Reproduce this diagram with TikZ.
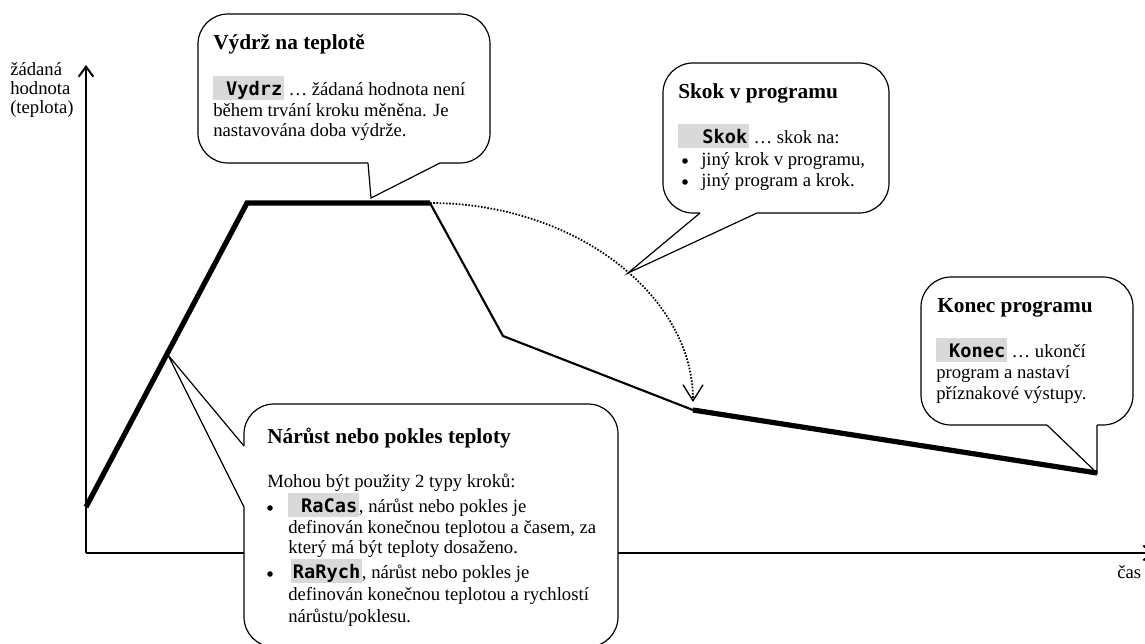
\documentclass[tikz,border=0pt]{standalone}
\usepackage{fontspec}
\setmainfont{Liberation Serif}
\newfontfamily\kodfont{DejaVu Sans Mono}
\usetikzlibrary{arrows.meta,fit}

\definecolor{hl}{RGB}{217,217,217}

% highlighted step keyword, fixed-width grey field with right-aligned name
\newcommand{\kod}[1]{{\setlength{\fboxsep}{0pt}\colorbox{hl}{\rule[-3.6pt]{0pt}{18pt}\makebox[53pt][r]{\kodfont\bfseries #1\hspace{1.2pt}}}}}

\tikzset{
  axisline/.style={line width=1.5pt},
  thickline/.style={line width=3.9pt},
  medline/.style={line width=1.6pt},
  jumpline/.style={line width=1.3pt, dash pattern=on 1.2pt off 1.2pt},
  callbox/.style={draw, fill=white, line width=0.9pt, rounded corners=22.5pt, inner sep=0pt},
  ptr/.style={line width=0.9pt},
  dot/.style={circle, fill, inner sep=0pt, minimum size=4.2pt},
  txt/.style={anchor=base west, inner sep=0pt, font=\fontsize{14}{16}\selectfont},
  ttl/.style={anchor=base west, inner sep=0pt, font=\fontsize{16}{18}\selectfont\bfseries},
}

\begin{document}
\begin{tikzpicture}[x=0.75pt,y=-0.75pt]
\useasboundingbox (0,0) rectangle (1145,643);

% axes
\coordinate (O) at (86,553);
\coordinate (ytip) at (86,65);
\coordinate (xtip) at (1155,553);
\draw[axisline,-{Straight Barb[length=7.5pt,width=11pt]}] (O) -- (ytip);
\draw[axisline,-{Straight Barb[length=7.5pt,width=11pt]}] (O) -- (xtip);

\node[txt] (ylab1) at (10,75) {žádaná};
\node[txt] (ylab2) at (10,94) {hodnota};
\node[txt] (ylab3) at (10,113) {(teplota)};
\node[txt] (xlab) at (1117,578) {čas};

% set-point profile
\coordinate (p0) at (86,507);
\coordinate (p1) at (247,203);
\coordinate (p2) at (430,203);
\coordinate (p3) at (503,336);
\coordinate (p4) at (693,410);
\coordinate (p5) at (1097,473);
\coordinate (jend) at (693,402);

% pointer tips
\coordinate (t1) at (371,198);
\coordinate (t2) at (628,273);
\coordinate (t3) at (1097,473);
\coordinate (t4) at (168,355);

% callout: hold at temperature
\node[callbox, fit={(198,14) (490,163)}] (vydrzbox) {};
\fill[white] (440,161) -- (440,163) -- (t1) -- (368,163) -- (368,161) -- cycle;
\draw[ptr] (440,163) -- (t1) -- (368,163);

% callout: jump
\node[callbox, fit={(663,63) (889,213)}] (skokbox) {};
\fill[white] (757,211) -- (757,213) -- (t2) -- (700,213) -- (700,211) -- cycle;
\draw[ptr] (757,213) -- (t2) -- (700,213);

% callout: end of program
\node[callbox, fit={(921,277) (1133,425)}] (konecbox) {};
\fill[white] (1097,423) -- (1097,425) -- (t3) -- (1047,425) -- (1047,423) -- cycle;
\draw[ptr] (1097,425) -- (t3) -- (1047,425);

% callout: ramp
\node[callbox, fit={(244,404) (618,647)}] (rampbox) {};
\fill[white] (246,446) -- (244,446) -- (t4) -- (244,507) -- (246,507) -- cycle;
\draw[ptr] (244,446) -- (t4) -- (244,507);

% profile drawn over the callouts
\draw[thickline] (p0) -- (p1) -- (p2);
\draw[medline] (p2) -- (p3) -- (p4);
\draw[thickline] (p4) -- (p5);
\draw[jumpline,-{Straight Barb[length=12pt,width=15pt,line width=1pt]}] (p2) .. controls (575,203) and (693,295) .. (jend);

% texts: hold
\node[ttl] (v0) at (213,49) {Výdrž na teplotě};
\node[txt] (v1) at (213,95) {\kod{Vydrz} … žádaná hodnota není};
\node[txt] (v2) at (213,116) {během trvání kroku měněna. Je};
\node[txt] (v3) at (213,136) {nastavována doba výdrže.};

% texts: jump
\node[ttl] (s0) at (678,98) {Skok v programu};
\node[txt] (s1) at (678,143) {\kod{Skok} … skok na:};
\node[dot] (s2b) at (685,161) {};
\node[txt] (s2) at (701,165) {jiný krok v programu,};
\node[dot] (s3b) at (685,182) {};
\node[txt] (s3) at (701,186) {jiný program a krok.};

% texts: end
\node[ttl] (k0) at (937,312) {Konec programu};
\node[txt] (k1) at (936,357) {\kod{Konec} … ukončí};
\node[txt] (k2) at (936,378) {program a nastaví};
\node[txt] (k3) at (936,399) {příznakové výstupy.};

% texts: ramp
\node[ttl] (r0) at (267,443) {Nárůst nebo pokles teploty};
\node[txt] (r1) at (267,487) {Mohou být použity 2 typy kroků:};
\node[dot] (r2b) at (270,508) {};
\node[txt] (r2) at (288,512) {\kod{RaCas}, nárůst nebo pokles je};
\node[txt] (r3) at (288,533) {definován konečnou teplotou a časem, za};
\node[txt] (r4) at (288,553) {který má být teploty dosaženo.};
\node[dot] (r5b) at (270,574) {};
\node[txt] (r5) at (291,578) {\kod{RaRych}, nárůst nebo pokles je};
\node[txt] (r6) at (288,600) {definován konečnou teplotou a rychlostí};
\node[txt] (r7) at (288,622) {nárůstu/poklesu.};
\end{tikzpicture}
\end{document}
